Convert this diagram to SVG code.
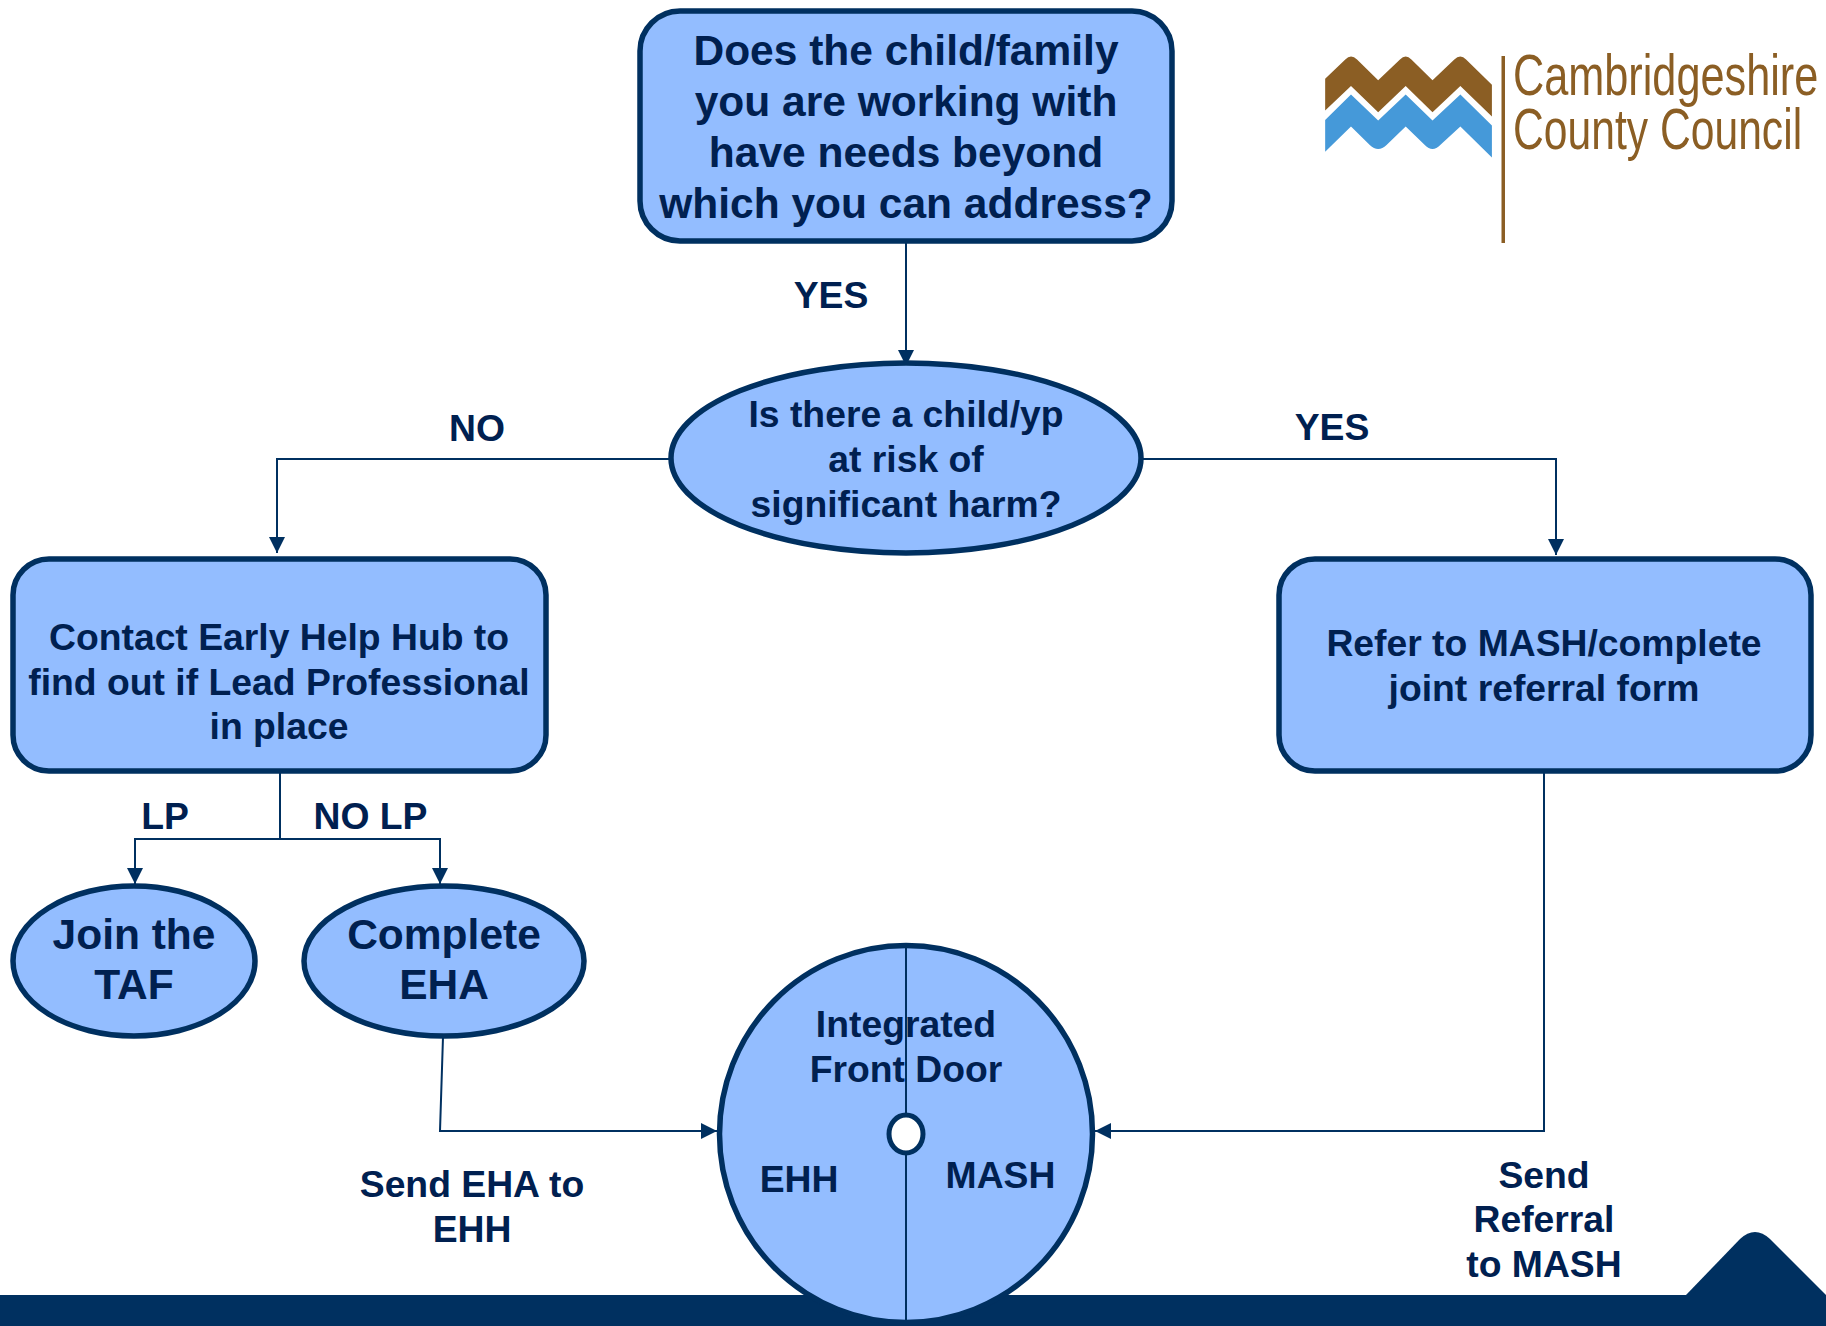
<svg xmlns="http://www.w3.org/2000/svg" width="1826" height="1326" viewBox="0 0 1826 1326">
<style>
.n{fill:#93bdff;stroke:#003060;stroke-width:5.500}
.c{fill:none;stroke:#003060;stroke-width:2}
text{font-family:"Liberation Sans",Arial,sans-serif;font-weight:700;fill:#002050;text-anchor:middle}
.f42{font-size:42.5px}.f37{font-size:37.300px}.f44{font-size:42.500px}
.logo{font-family:"Liberation Sans",sans-serif;font-weight:400;fill:#8b5e24;text-anchor:start;font-size:57px}
</style>
<defs>
<marker id="a" markerUnits="userSpaceOnUse" markerWidth="17" markerHeight="17" refX="16" refY="8" orient="auto"><path d="M0 0L16 8L0 16Z" fill="#003060"/></marker>
</defs>
<rect width="1826" height="1326" fill="#fff"/>
<g id="footer" fill="#003060">
<rect x="0" y="1295" width="1826" height="31"/>
<path d="M1686 1295L1740 1239Q1755 1225 1770 1239L1826 1295Z"/>
</g>
<g id="logo">
<path fill="#8b5e24" transform="translate(1300 30) scale(.3355)" d="M75 145L135 88Q152 70 170 88L233 150L298 88Q315 70 332 88L395 150L460 88Q478 70 495 88L572 163V258L478 167L395 245L315 167L233 245L152 167L75 240Z"/>
<path fill="#4599d9" transform="translate(1300 30) scale(.3355)" d="M75 268L152 192L233 270L315 192L395 270L478 192L572 285V380L478 288L418 343Q395 367 372 343L315 288L258 343Q233 367 208 343L152 288L75 363Z"/>
<rect x="1501.500" y="56" width="3.500" height="187" fill="#8b5e24"/>
<text class="logo" transform="translate(1513 95) scale(.759 1)">Cambridgeshire</text>
<text class="logo" transform="translate(1513 149) scale(.748 1)">County Council</text>
</g>
<g id="connectors">
<path class="c" d="M906 241V366" marker-end="url(#a)"/>
<path class="c" d="M671 459H277V553" marker-end="url(#a)"/>
<path class="c" d="M1142 459H1556V555" marker-end="url(#a)"/>
<path class="c" d="M280 771V839H135V884" marker-end="url(#a)"/>
<path class="c" d="M280 839H440V884" marker-end="url(#a)"/>
<path class="c" d="M443 1037L440 1131H717" marker-end="url(#a)"/>
<path class="c" d="M1544 771V1131H1095" marker-end="url(#a)"/>
</g>
<g id="n-question">
<rect class="n" x="640" y="11" width="532" height="230" rx="40"/>
<text class="f42" x="906" y="65">Does the child/family</text>
<text class="f42" x="906" y="116">you are working with</text>
<text class="f42" x="906" y="167">have needs beyond</text>
<text class="f42" x="906" y="218">which you can address?</text>
</g>
<g id="n-risk">
<ellipse class="n" cx="906" cy="458" rx="235" ry="95"/>
<text class="f37" x="906" y="427">Is there a child/yp</text>
<text class="f37" x="906" y="472">at risk of</text>
<text class="f37" x="906" y="517">significant harm?</text>
</g>
<g id="n-contact">
<rect class="n" x="13" y="559" width="533" height="212" rx="36"/>
<text class="f37" x="279" y="650">Contact Early Help Hub to</text>
<text class="f37" x="279" y="695">find out if Lead Professional</text>
<text class="f37" x="279" y="739">in place</text>
</g>
<g id="n-refer">
<rect class="n" x="1279" y="559" width="532" height="212" rx="36"/>
<text class="f37" x="1544" y="656">Refer to MASH/complete</text>
<text class="f37" x="1544" y="701">joint referral form</text>
</g>
<g id="n-join">
<ellipse class="n" cx="134" cy="961" rx="121" ry="75"/>
<text class="f44" x="134" y="949">Join the</text>
<text class="f44" x="134" y="999">TAF</text>
</g>
<g id="n-complete">
<ellipse class="n" cx="444" cy="961" rx="140" ry="75"/>
<text class="f44" x="444" y="949">Complete</text>
<text class="f44" x="444" y="999">EHA</text>
</g>
<g id="n-front-door">
<ellipse class="n" cx="906" cy="1134" rx="186.500" ry="188.500"/>
<path class="c" d="M906 945V1320"/>
<ellipse cx="906" cy="1134" rx="17" ry="19" fill="#fff" stroke="#003060" stroke-width="5"/>
<text class="f37" x="906" y="1037">Integrated</text>
<text class="f37" x="906" y="1082">Front Door</text>
<text class="f37" x="799" y="1192">EHH</text>
<text class="f37" x="1000.500" y="1188">MASH</text>
</g>
<g id="labels">
<text class="f37" x="831" y="308">YES</text>
<text class="f37" x="477" y="441">NO</text>
<text class="f37" x="1332" y="440">YES</text>
<text class="f37" x="165" y="829">LP</text>
<text class="f37" x="370.500" y="829">NO LP</text>
<text class="f37" x="472" y="1197">Send EHA to</text>
<text class="f37" x="472" y="1242">EHH</text>
<text class="f37" x="1544" y="1188">Send</text>
<text class="f37" x="1544" y="1232">Referral</text>
<text class="f37" x="1544" y="1277">to MASH</text>
</g>
</svg>
